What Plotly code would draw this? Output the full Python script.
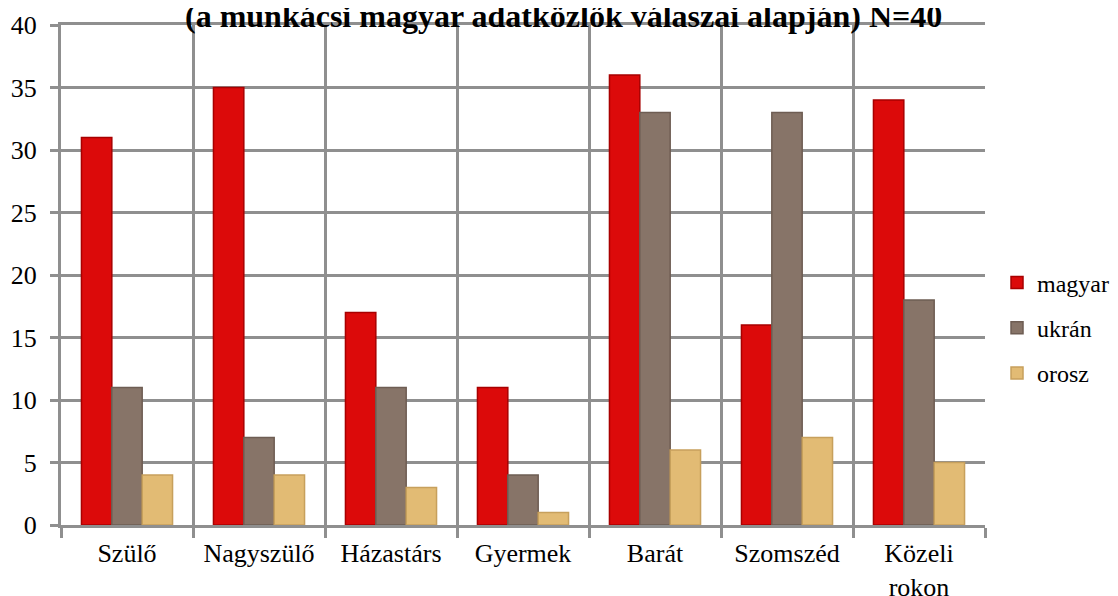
import plotly.graph_objects as go

categories = ["Szülő", "Nagyszülő", "Házastárs", "Gyermek", "Barát", "Szomszéd", "Közeli<br>rokon"]
magyar = [31, 35, 17, 11, 36, 16, 34]
ukran = [11, 7, 11, 4, 33, 33, 18]
orosz = [4, 4, 3, 1, 6, 7, 5]

title_text = "(a munkácsi magyar adatközlők válaszai alapján) N=40"
font_family = "Liberation Serif"
grid = "#8f8f8f"

fig = go.Figure()
series = [
    ("magyar", magyar, "#dc0a0a", "#a80000"),
    ("ukrán", ukran, "#877468", "#6e5d53"),
    ("orosz", orosz, "#e2bb74", "#c7a05c"),
]
for name, vals, col, edge in series:
    fig.add_trace(go.Bar(
        x=categories, y=vals, name=name, legendgroup=name,
        marker=dict(color=col, line=dict(color=edge, width=1.5)),
    ))

# page has an 8px body margin; figure coordinates are offset accordingly
W, H = 1110, 588
L, R, T, B = 53, W - 977, 17, H - 517
fig.update_layout(
    width=W, height=H,
    margin=dict(l=L, r=R, t=T, b=B, autoexpand=False),
    plot_bgcolor="white", paper_bgcolor="white",
    barmode="group", bargap=0.31, bargroupgap=0,
    font=dict(family=font_family, size=26, color="black"),
    legend=dict(x=1.013, xanchor="left", y=0.394, yanchor="middle",
                font=dict(family=font_family, size=24), tracegroupgap=11,
                traceorder="grouped", itemwidth=30),
    showlegend=True,
)
fig.update_xaxes(
    automargin=False,
    showgrid=True, gridcolor=grid, gridwidth=3,
    tickson="boundaries", ticks="outside", ticklen=10, tickcolor=grid, tickwidth=3,
    showline=True, linecolor=grid, linewidth=3, mirror=True,
    tickfont=dict(family=font_family, size=26), ticklabelstandoff=3,
)
fig.update_yaxes(
    automargin=False,
    range=[0, 40], dtick=5, showgrid=True, gridcolor=grid, gridwidth=3,
    ticks="outside", ticklen=8, tickcolor=grid, tickwidth=3,
    showline=True, linecolor=grid, linewidth=3, zeroline=False,
    tickfont=dict(family=font_family, size=26), ticklabelstandoff=8,
)
fig.add_annotation(
    text="<b>" + title_text + "</b>", xref="paper", yref="paper",
    x=(555 - L) / (977 - L), y=1, xanchor="center", yanchor="bottom", yshift=-11,
    showarrow=False, font=dict(size=32, family=font_family, color="black"),
)
fig.write_html("out.html")
